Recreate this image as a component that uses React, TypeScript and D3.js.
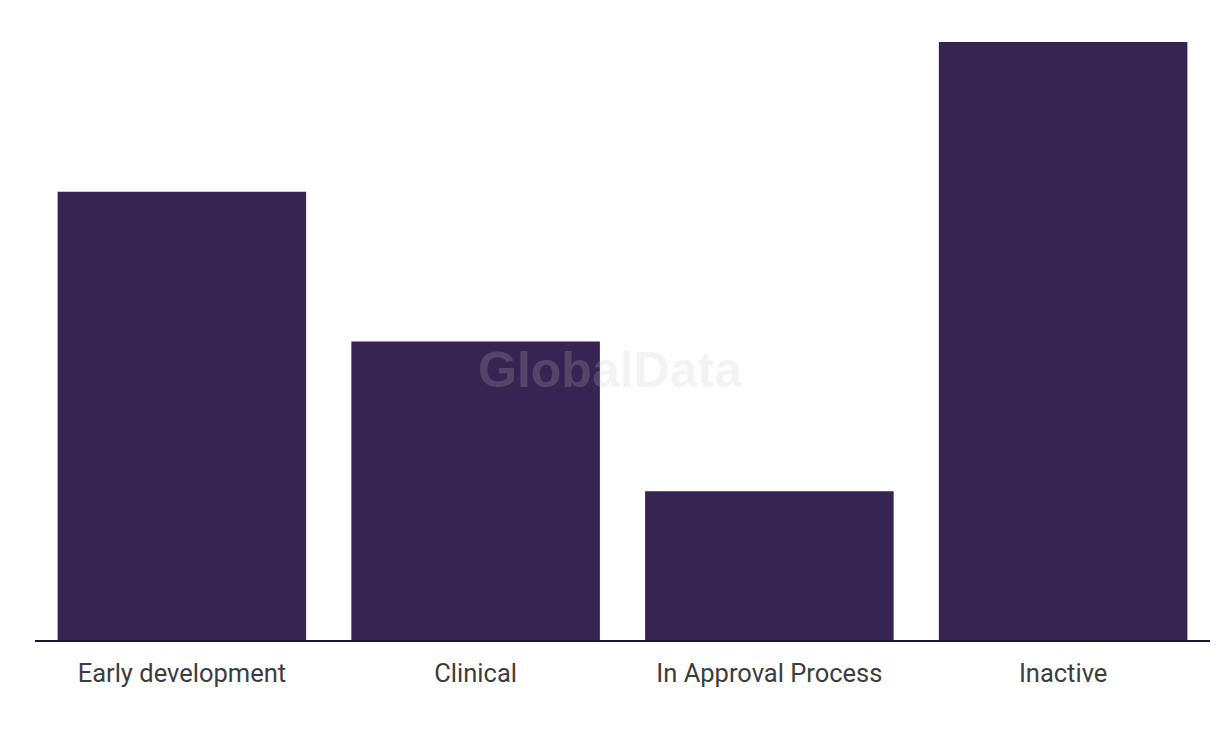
import React from "react";
import * as d3 from "d3";

const categories = ["Early development", "Clinical", "In Approval Process", "Inactive"];
const values = [3, 2, 1, 4];

const W = 1220;
const H = 736;

export default function App() {
  const x = d3.scaleBand<string>().domain(categories).range([35, 1210]).paddingInner(0.154).paddingOuter(0.077);
  const y = d3.scaleLinear().domain([0, 4]).range([641, 42]);
  return (
    <svg width={W} height={H} style={{ position: "absolute", left: 0, top: 0 }}>
      <rect width={W} height={H} fill="#fff" />
      {categories.map((c, i) => (
        <rect key={c} x={x(c)} y={y(values[i])} width={x.bandwidth()} height={y(0) - y(values[i])} fill="#362452" />
      ))}
      <line x1={35} x2={1210} y1={y(0)} y2={y(0)} stroke="#1b1530" strokeWidth={2} />
      {categories.map((c) => (
        <text key={c} x={(x(c) as number) + x.bandwidth() / 2} y={682} textAnchor="middle" fontFamily="Roboto, sans-serif" fontSize={25.5} fill="#3d3d3d">
          {c}
        </text>
      ))}
      <text x={610} y={387} textAnchor="middle" fontFamily="Liberation Sans, Arial, sans-serif" fontWeight="bold" fontSize={50} fill="#c8c8c8" opacity={0.2}>
        GlobalData
      </text>
    </svg>
  );
}
